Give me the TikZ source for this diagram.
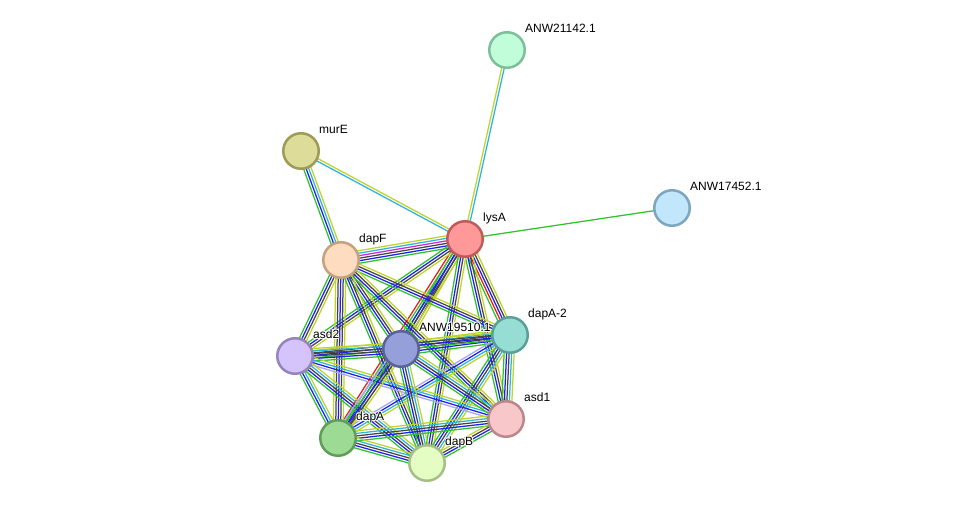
\documentclass[tikz,border=0pt]{standalone}
\usepackage{fontspec}
\setmainfont{Liberation Sans}
\usetikzlibrary{calc}
\pgfdeclarelayer{bg}
\pgfsetlayers{bg,main}
\definecolor{eGn}{RGB}{45,195,45}
\definecolor{eBl}{RGB}{30,30,240}
\definecolor{eBk}{RGB}{70,70,70}
\definecolor{eMg}{RGB}{210,40,210}
\definecolor{eCy}{RGB}{45,180,220}
\definecolor{eYl}{RGB}{190,212,40}
\definecolor{eRd}{RGB}{240,25,25}
\definecolor{eLv}{RGB}{165,165,255}
\definecolor{f21142}{RGB}{193,253,217}\definecolor{d21142}{RGB}{125,191,154}
\definecolor{fmurE}{RGB}{222,220,153}\definecolor{dmurE}{RGB}{158,155,88}
\definecolor{f17452}{RGB}{194,231,253}\definecolor{d17452}{RGB}{124,166,192}
\definecolor{flysA}{RGB}{255,153,153}\definecolor{dlysA}{RGB}{193,91,91}
\definecolor{fdapF}{RGB}{253,220,191}\definecolor{ddapF}{RGB}{196,162,127}
\definecolor{fdapAt}{RGB}{150,221,212}\definecolor{ddapAt}{RGB}{90,160,152}
\definecolor{fasdt}{RGB}{213,196,251}\definecolor{dasdt}{RGB}{150,133,187}
\definecolor{f19510}{RGB}{149,160,219}\definecolor{d19510}{RGB}{90,99,152}
\definecolor{fasdo}{RGB}{247,199,201}\definecolor{dasdo}{RGB}{186,135,138}
\definecolor{fdapA}{RGB}{157,219,149}\definecolor{ddapA}{RGB}{95,157,88}
\definecolor{fdapB}{RGB}{227,253,195}\definecolor{ddapB}{RGB}{165,191,133}
\newcommand\medge[3]{%
  \foreach [count=\i] \c in {#3} {\xdef\edgeN{\i}}%
  \foreach [count=\i] \c in {#3} {%
    \pgfmathsetmacro\off{(\i-(\edgeN+1)/2)*2.5}%
    \draw[color=\c, line width=1.25pt] ($(#1.center)!\off pt!90:(#2.center)$) -- ($(#2.center)!\off pt!-90:(#1.center)$);%
  }%
}
\newcommand\plbl[3]{% node, label name, text
  \foreach \dx/\dy in {-0.9/0,0.9/0,0/-0.9,0/0.9,-0.7/-0.7,0.7/0.7,-0.7/0.7,0.7/-0.7}{%
    \node[lbltxt, text=white] at ($(#1)+(18+\dx,-17.5+\dy)$) {#3};}%
  \node[lbltxt] (#2) at ($(#1)+(18,-17.5)$) {#3};%
}
\tikzset{
  prot/.style={circle, minimum size=35.5pt, inner sep=0pt, line width=2.5pt, fill=f#1, draw=d#1},
  lbltxt/.style={anchor=base west, inner sep=0pt, font=\fontsize{12pt}{14pt}\selectfont, text=black}
}
\begin{document}
\begin{tikzpicture}[x=1pt, y=-1pt]
\useasboundingbox (0,0) rectangle (976,508);
\node[prot=21142] (n21142) at (507,50) {};
\node[prot=murE] (murE) at (301,151) {};
\node[prot=17452] (n17452) at (672,208) {};
\node[prot=lysA] (lysA) at (465,239) {};
\node[prot=dapF] (dapF) at (341,260) {};
\node[prot=dapAt] (dapA2) at (510,335) {};
\node[prot=asdt] (asd2) at (295,356) {};
\node[prot=19510] (n19510) at (401,349) {};
\node[prot=asdo] (asd1) at (506,419) {};
\node[prot=dapA] (dapA) at (338,438) {};
\node[prot=dapB] (dapB) at (427,463) {};
\begin{pgfonlayer}{bg}
\fill[white] (0,0) rectangle (976,508);
\medge{lysA}{n21142}{eCy,eYl}
\medge{lysA}{n17452}{eGn}
\medge{murE}{lysA}{eCy,eYl}
\medge{murE}{dapF}{eGn,eBl,eCy,eYl}
\medge{dapF}{lysA}{eGn,eBl,eBk,eMg,eCy,eYl}
\medge{lysA}{dapA2}{eGn,eRd,eBl,eBk,eYl}
\medge{lysA}{n19510}{eGn,eBl,eBk,eYl}
\medge{lysA}{dapA}{eRd,eGn,eBl,eBk,eYl}
\medge{lysA}{asd2}{eGn,eBl,eBk,eYl}
\medge{lysA}{asd1}{eGn,eBl,eBk,eYl}
\medge{lysA}{dapB}{eGn,eBl,eBk,eYl}
\medge{dapF}{dapA2}{eGn,eBl,eBk,eYl}
\medge{dapF}{n19510}{eGn,eBl,eBk,eYl}
\medge{dapF}{asd2}{eGn,eBl,eBk,eYl}
\medge{dapF}{asd1}{eGn,eBl,eBk,eYl}
\medge{dapF}{dapA}{eYl,eBk,eBl,eBk,eYl}
\medge{dapF}{dapB}{eGn,eBl,eBk,eYl}
\medge{n19510}{dapA2}{eGn,eBl,eBk,eBk,eCy,eYl}
\medge{asd2}{dapA2}{eGn,eBl,eBk,eYl}
\medge{dapA2}{asd1}{eGn,eBl,eBk,eCy,eYl}
\medge{dapA2}{dapA}{eLv,eBl,eCy,eYl}
\medge{dapA2}{dapB}{eGn,eBl,eBk,eCy,eYl}
\medge{asd2}{n19510}{eGn,eBl,eBk,eBk,eCy,eYl}
\medge{asd2}{asd1}{eLv,eBl,eCy,eYl}
\medge{asd2}{dapA}{eGn,eBl,eCy,eYl}
\medge{asd2}{dapB}{eGn,eBl,eBk,eCy,eYl}
\medge{n19510}{asd1}{eGn,eBl,eBk,eCy,eYl}
\medge{n19510}{dapA}{eLv,eGn,eBl,eBk,eYl}
\medge{n19510}{dapB}{eGn,eBl,eBk,eCy,eYl}
\medge{dapA}{asd1}{eGn,eBl,eBk,eCy,eYl}
\medge{dapB}{asd1}{eGn,eBl,eBk,eYl}
\medge{dapA}{dapB}{eGn,eBl,eBk,eCy,eYl}
\end{pgfonlayer}
\plbl{n21142}{l21142}{ANW21142.1}
\plbl{murE}{lmurE}{murE}
\plbl{n17452}{l17452}{ANW17452.1}
\plbl{lysA}{llysA}{lysA}
\plbl{dapF}{ldapF}{dapF}
\plbl{dapA2}{ldapA2}{dapA-2}
\plbl{asd2}{lasd2}{asd2}
\plbl{n19510}{l19510}{ANW19510.1}
\plbl{asd1}{lasd1}{asd1}
\plbl{dapA}{ldapA}{dapA}
\plbl{dapB}{ldapB}{dapB}
\end{tikzpicture}
\end{document}
